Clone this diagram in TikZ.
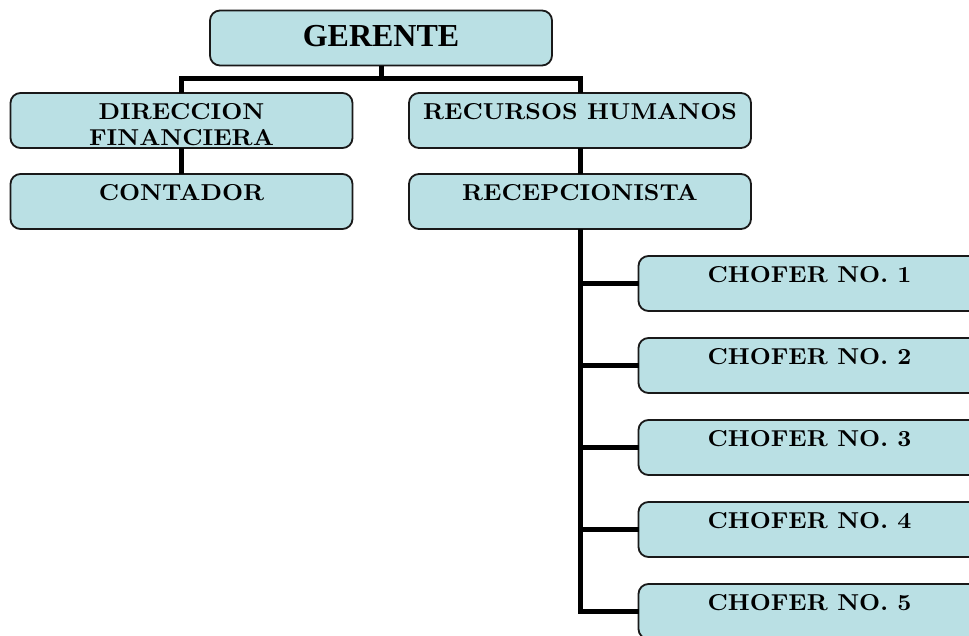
\documentclass[tikz,border=0pt]{standalone}
\usepackage{fontspec}
\newfontfamily\gerfont{Liberation Serif}
\newfontfamily\engr[FakeStretch=1.06]{lmroman10-bold.otf}
\definecolor{boxfill}{RGB}{186,224,228}
\definecolor{boxline}{RGB}{25,25,25}
\begin{document}
\begin{tikzpicture}[x=1pt,y=-1pt,
  box/.style={draw=boxline,line width=1.8pt,fill=boxfill,rounded corners=10pt,
    minimum width=342pt,minimum height=55pt,inner sep=0pt,outer sep=0pt},
  lbl/.style={anchor=north,inner sep=0pt,align=center,
    font=\engr\fontsize{23}{26}\selectfont},
  conn/.style={line width=5pt,draw=black}]
\clip (0,0) rectangle (969,635);
\fill[white] (0,0) rectangle (969,635);
% boxes
\node[box] (ger) at (381,38) {};
\node[box] (dir) at (181.5,120.5) {};
\node[box] (con) at (181.5,201.5) {};
\node[box] (rh) at (580,120.5) {};
\node[box] (rec) at (580,201.5) {};
\node[box] (c1) at (809.5,283.5) {};
\node[box] (c2) at (809.5,365.5) {};
\node[box] (c3) at (809.5,447.5) {};
\node[box] (c4) at (809.5,529.5) {};
\node[box] (c5) at (809.5,611.5) {};
% connectors
\coordinate (bus) at (381,78);
\draw[conn] (ger.south) -- (bus);
\draw[conn] (dir.north) |- (bus) -| (rh.north);
\draw[conn] (dir.south) -- (con.north);
\draw[conn] (rh.south) -- (rec.north);
\draw[conn] (rec.south) |- (c5.west);
\foreach \i in {1,2,3,4}{\draw[conn] (rec.south |- c\i.west) -- (c\i.west);}
% labels
\node[anchor=base,inner sep=0pt,font=\gerfont\bfseries\fontsize{32}{38}\selectfont] (gerT) at (381,46) {GERENTE};
\node[lbl] (dirT) at (181.5,103) {DIRECCION\\FINANCIERA};
\node[lbl] (conT) at (181.5,184) {CONTADOR};
\node[lbl] (rhT) at (580,103) {RECURSOS HUMANOS};
\node[lbl] (recT) at (580,184) {RECEPCIONISTA};
\node[lbl] (c1T) at (809.5,266) {CHOFER NO. 1};
\node[lbl] (c2T) at (809.5,348) {CHOFER NO. 2};
\node[lbl] (c3T) at (809.5,430) {CHOFER NO. 3};
\node[lbl] (c4T) at (809.5,512) {CHOFER NO. 4};
\node[lbl] (c5T) at (809.5,594) {CHOFER NO. 5};
\end{tikzpicture}
\end{document}
